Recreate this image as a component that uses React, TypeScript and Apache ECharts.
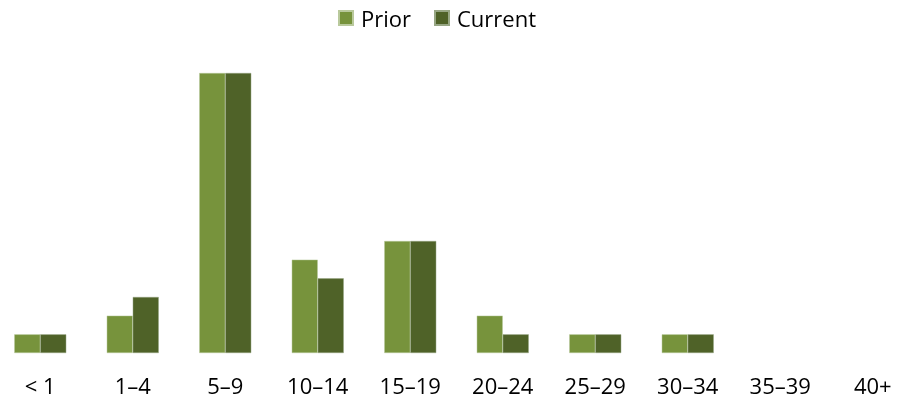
import React, { useEffect, useRef } from "react";
import * as echarts from "echarts";

const categories = ["< 1", "1–4", "5–9", "10–14", "15–19", "20–24", "25–29", "30–34", "35–39", "40+"];
const priorValues = [1, 2, 15, 5, 6, 2, 1, 1, 0, 0];
const currentValues = [1, 3, 15, 4, 6, 1, 1, 1, 0, 0];

const FONT = "'Open Sans', 'Noto Sans', sans-serif";

// Zero-height bars get no outline so nothing shows for empty bins.
const toBarData = (values: number[]) =>
  values.map((v) => (v === 0 ? { value: v, itemStyle: { borderWidth: 0 } } : v));

export default function App() {
  const ref = useRef<HTMLDivElement>(null);

  useEffect(() => {
    if (!ref.current) return;
    const chart = echarts.init(ref.current, undefined, { renderer: "svg" });
    chart.setOption({
      animation: false,
      legend: {
        top: 6,
        left: 344,
        padding: 0,
        itemWidth: 14,
        itemHeight: 14,
        itemGap: 23,
        icon: "rect",
        textStyle: {
          fontFamily: FONT,
          fontSize: 22,
          lineHeight: 24,
          color: "#000",
          padding: [0, 0, 0, 3],
        },
        data: ["Prior", "Current"],
      },
      grid: { left: 0, right: 0, top: 73, bottom: 45, containLabel: false },
      xAxis: {
        type: "category",
        data: categories,
        axisLine: { show: false },
        axisTick: { show: false },
        axisLabel: {
          fontFamily: FONT,
          fontSize: 22,
          lineHeight: 22,
          color: "#000",
          margin: 21,
          interval: 0,
        },
      },
      yAxis: {
        type: "value",
        min: 0,
        max: 15,
        show: false,
        splitLine: { show: false },
      },
      series: [
        {
          name: "Prior",
          type: "bar",
          data: toBarData(priorValues),
          barWidth: 26,
          barGap: "0%",
          itemStyle: { color: "#77933C", borderColor: "#B9C99C", borderWidth: 0.5 },
        },
        {
          name: "Current",
          type: "bar",
          data: toBarData(currentValues),
          barWidth: 26,
          barGap: "0%",
          itemStyle: { color: "#4F6228", borderColor: "#97A684", borderWidth: 0.5 },
        },
      ],
    });
    return () => chart.dispose();
  }, []);

  return (
    <div
      ref={ref}
      style={{ position: "fixed", left: -6, top: 0, width: 925, height: 398 }}
    />
  );
}
